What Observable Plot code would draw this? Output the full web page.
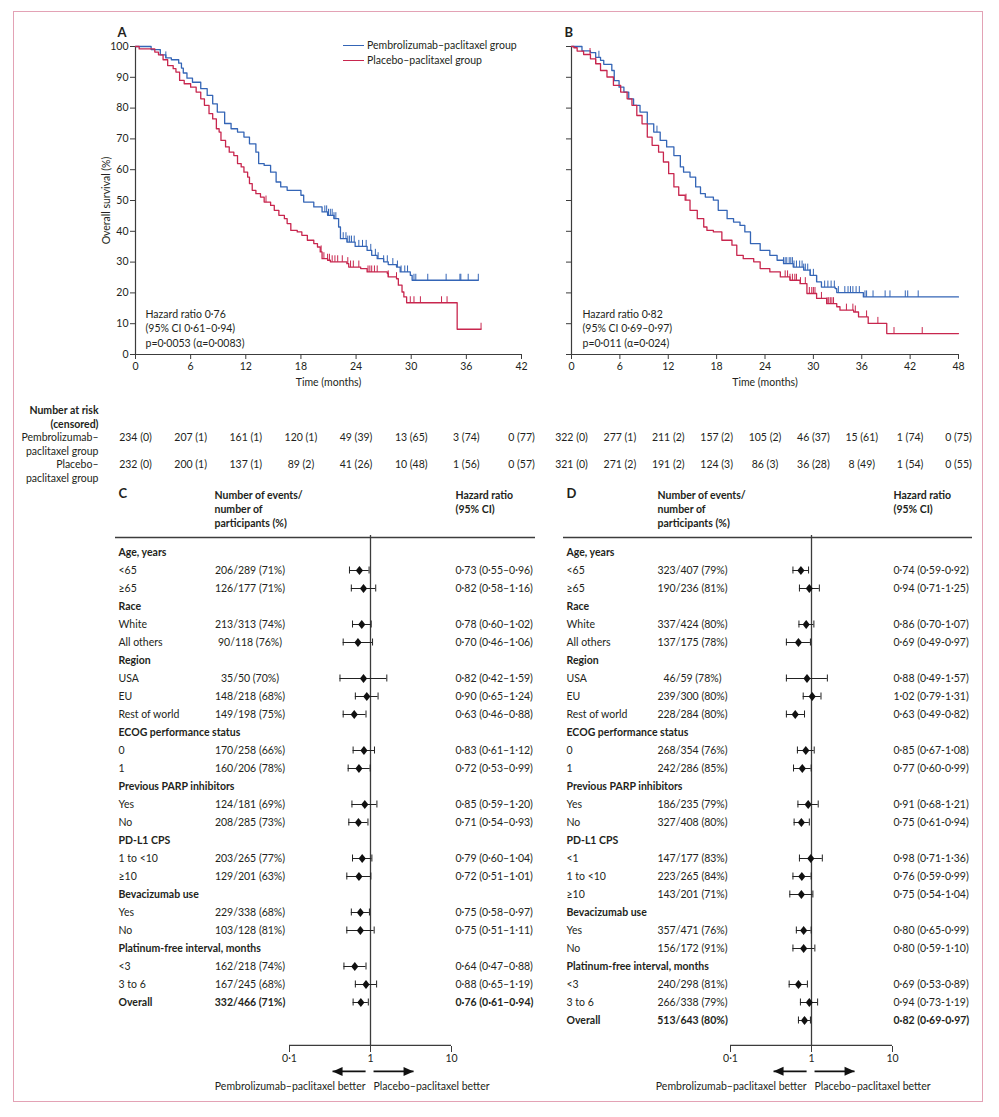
<!DOCTYPE html>
<html><head><meta charset="utf-8">
<script src="https://cdn.jsdelivr.net/npm/d3@7"></script>
<script src="https://cdn.jsdelivr.net/npm/@observablehq/plot@0.6"></script>
<style>
body{margin:0;background:#fff;}
#page{position:relative;width:999px;height:1117px;font-family:Lato,"Open Sans",sans-serif;color:#231f20;overflow:hidden;}
.border{position:absolute;left:13px;top:11px;width:970px;height:1091px;border:1.5px solid #e3a2b5;box-sizing:border-box;}
.legend{position:absolute;font-size:10.5px;line-height:15px;}
.legend .row{display:flex;align-items:center;white-space:nowrap;}
.legend .sw{display:inline-block;width:21px;height:1.5px;margin-right:3px;}
</style></head><body><div id="page"><div class="border"></div></div>
<script>
// ---------------- DATA ----------------
const colPembro = "#3465b6", colPlacebo = "#c8264e";
const groupNames = ["Pembrolizumab–paclitaxel group", "Placebo–paclitaxel group"];
const riskLabels = ["Pembrolizumab–\npaclitaxel group", "Placebo–\npaclitaxel group"];
const survTicks = [0,10,20,30,40,50,60,70,80,90,100];
const timeTicksA = [0,6,12,18,24,30,36,42];
const timeTicksB = [0,6,12,18,24,30,36,42,48];

// Panel A – Kaplan–Meier (months, % surviving)
const kmA_pembro_t = [0,1.7,2.7,3.3,3.9,4.7,5.0,5.2,5.6,6.2,7.1,7.8,8.4,8.9,9.7,10.4,11.1,11.8,12.4,13.1,13.4,14.0,14.7,15.3,15.8,16.5,18.0,18.3,19.4,20.3,20.9,21.6,22.1,22.3,23.0,23.9,25.2,25.7,26.3,27.0,27.5,28.4,28.8,29.9,30.1,37.3];
const kmA_pembro_s = [100,99.0,97.3,96.3,95.7,94.6,93.0,91.4,89.7,88.4,86.3,84.1,81.4,78.7,75.0,73.3,72.2,70.6,68.4,65.7,62.0,61.4,59.2,56.0,54.4,53.3,51.7,49.5,47.9,46.3,45.2,44.1,41.4,37.6,36.5,35.1,33.8,32.2,31.1,30.1,29.2,28.4,26.8,25.7,24.1,24.1];
const kmA_placebo_t = [0,0.4,2.1,2.5,3.0,3.5,4.1,4.4,4.8,5.3,6.0,6.6,7.1,7.5,8.0,8.4,8.8,9.1,9.3,9.8,10.2,10.7,11.1,11.5,11.8,12.2,12.4,12.7,13.1,13.6,14.0,14.7,15.1,15.6,16.2,16.5,16.9,17.6,18.1,18.7,19.4,19.8,20.1,20.3,20.9,21.2,23.0,23.2,24.5,25.2,27.4,27.5,28.4,28.6,29.0,29.2,29.5,35.0,37.6];
const kmA_placebo_s = [100,99.2,98.2,97.3,95.7,93.8,92.8,91.7,89.0,87.9,86.8,85.2,83.0,80.9,78.2,76.5,73.3,72.2,69.5,67.4,65.7,64.6,62.0,60.9,59.2,57.6,55.5,53.3,52.2,51.1,49.5,48.4,46.8,45.2,44.1,42.5,40.3,39.8,38.7,37.1,36.0,34.9,33.3,31.1,30.6,30.1,29.5,28.4,27.9,26.8,26.3,25.2,24.6,22.5,20.3,18.7,16.8,8.2,8.2];
const censA_pembro = [3.3,20.6,20.8,21.0,21.2,21.4,21.6,21.8,22.6,22.9,23.1,23.3,23.5,23.8,24.3,24.7,25.1,25.6,26.1,26.4,27.0,27.4,28.0,28.5,28.9,29.3,29.6,30.3,30.5,31.8,33.8,35.3,35.4,36.2,37.3];
const censA_placebo = [14.2,20.2,20.5,20.9,21.1,21.4,21.7,22.0,22.5,23.1,23.4,23.7,24.3,25.3,25.5,25.7,26.0,26.3,27.5,28.4,29.9,30.3,31.0,33.3,33.9,37.6];

// Panel B
const kmB_pembro_t = [0,1.3,2.35,3.0,3.6,4.0,5.0,5.3,5.9,6.5,7.1,7.7,8.5,9.4,10.2,11.0,11.8,12.7,13.5,13.9,14.7,15.4,16.0,16.6,17.6,18.2,19.3,20.1,20.9,21.5,22.2,23.4,24.6,25.5,26.3,27.5,28.8,29.6,30.4,31.0,32.7,32.9,36.2,48];
const kmB_pembro_s = [100,98.6,98.0,96.5,95.5,94.2,92.2,88.9,86.8,85.2,83.0,80.9,78.7,74.9,72.2,69.5,67.4,64.6,60.9,59.2,57.6,54.4,52.2,51.1,50.1,46.8,44.1,43.0,41.9,39.8,36.0,33.8,32.2,30.6,29.5,28.4,27.4,25.7,23.6,21.9,21.4,20.1,18.7,18.7];
const kmB_placebo_t = [0,0.3,0.7,1.5,2.35,3.0,3.6,4.4,5.2,6.1,6.9,7.5,8.1,8.75,9.4,10.0,10.8,11.4,12.05,12.7,13.3,14.1,14.7,15.6,16.4,16.8,17.6,18.65,19.9,20.5,21.3,22.6,23.4,24.6,25.9,27.1,28.35,29.2,30.4,31.65,32.9,33.3,35.0,35.6,36.8,39.1,48];
const kmB_placebo_s = [100,99.6,98.5,97.4,96.0,94.4,92.2,90.1,87.4,85.2,83.0,80.9,77.6,74.9,70.6,67.9,65.7,62.5,58.7,54.4,51.7,50.1,46.8,44.1,41.4,40.3,39.8,37.1,35.5,32.2,31.1,30.1,27.9,26.8,25.2,24.1,23.0,19.8,18.2,16.5,15.5,14.4,13.8,12.2,10.1,6.8,6.8];
const censB_pembro = [3.4,10.6,26.3,26.5,26.7,27.0,27.2,27.4,27.6,27.9,28.3,28.6,28.8,29.0,29.3,29.6,30.0,30.4,31.4,31.8,32.2,32.6,33.1,33.9,34.3,34.6,34.9,35.3,35.7,36.4,36.6,37.4,38.9,39.5,41.4,41.7,43.0];
const censB_placebo = [2.3,3.0,14.2,26.5,26.8,27.1,27.4,27.7,27.9,28.4,29.0,29.5,29.8,30.0,30.2,31.0,31.7,31.9,32.1,32.3,32.5,34.1,34.9,35.2,36.6,38.0,40.0,43.5];

const hrTextA = "Hazard ratio 0·76\n(95% CI 0·61–0·94)\np=0·0053 (α=0·0083)";
const hrTextB = "Hazard ratio 0·82\n(95% CI 0·69–0·97)\np=0·011 (α=0·024)";

// Number at risk (censored)
const riskA_pembro = [234,207,161,120,49,13,3,0], censA_pembro_n = [0,1,1,1,39,65,74,77];
const riskA_placebo = [232,200,137,89,41,10,1,0], censA_placebo_n = [0,1,1,2,26,48,56,57];
const riskB_pembro = [322,277,211,157,105,46,15,1,0], censB_pembro_n = [0,1,2,2,2,37,61,74,75];
const riskB_placebo = [321,271,191,124,86,36,8,1,0], censB_placebo_n = [0,2,2,3,3,28,49,54,55];

// Forest plot C
const fC_label = ["Age, years","<65","≥65","Race","White","All others","Region","USA","EU","Rest of world","ECOG performance status","0","1","Previous PARP inhibitors","Yes","No","PD-L1 CPS","1 to <10","≥10","Bevacizumab use","Yes","No","Platinum-free interval, months","<3","3 to 6","Overall"];
const fC_events = [null,206,126,null,213,90,null,35,148,149,null,170,160,null,124,208,null,203,129,null,229,103,null,162,167,332];
const fC_n      = [null,289,177,null,313,118,null,50,218,198,null,258,206,null,181,285,null,265,201,null,338,128,null,218,245,466];
const fC_pct    = [null,71,71,null,74,76,null,70,68,75,null,66,78,null,69,73,null,77,63,null,68,81,null,74,68,71];
const fC_hr     = [null,0.73,0.82,null,0.78,0.70,null,0.82,0.90,0.63,null,0.83,0.72,null,0.85,0.71,null,0.79,0.72,null,0.75,0.75,null,0.64,0.88,0.76];
const fC_lo     = [null,0.55,0.58,null,0.60,0.46,null,0.42,0.65,0.46,null,0.61,0.53,null,0.59,0.54,null,0.60,0.51,null,0.58,0.51,null,0.47,0.65,0.61];
const fC_hi     = [null,0.96,1.16,null,1.02,1.06,null,1.59,1.24,0.88,null,1.12,0.99,null,1.20,0.93,null,1.04,1.01,null,0.97,1.11,null,0.88,1.19,0.94];

// Forest plot D
const fD_label = ["Age, years","<65","≥65","Race","White","All others","Region","USA","EU","Rest of world","ECOG performance status","0","1","Previous PARP inhibitors","Yes","No","PD-L1 CPS","<1","1 to <10","≥10","Bevacizumab use","Yes","No","Platinum-free interval, months","<3","3 to 6","Overall"];
const fD_events = [null,323,190,null,337,137,null,46,239,228,null,268,242,null,186,327,null,147,223,143,null,357,156,null,240,266,513];
const fD_n      = [null,407,236,null,424,175,null,59,300,284,null,354,286,null,235,408,null,177,265,201,null,471,172,null,298,338,643];
const fD_pct    = [null,79,81,null,80,78,null,78,80,80,null,76,85,null,79,80,null,83,84,71,null,76,91,null,81,79,80];
const fD_hr     = [null,0.74,0.94,null,0.86,0.69,null,0.88,1.02,0.63,null,0.85,0.77,null,0.91,0.75,null,0.98,0.76,0.75,null,0.80,0.80,null,0.69,0.94,0.82];
const fD_lo     = [null,0.59,0.71,null,0.70,0.49,null,0.49,0.79,0.49,null,0.67,0.60,null,0.68,0.61,null,0.71,0.59,0.54,null,0.65,0.59,null,0.53,0.73,0.69];
const fD_hi     = [null,0.92,1.25,null,1.07,0.97,null,1.57,1.31,0.82,null,1.08,0.99,null,1.21,0.94,null,1.36,0.99,1.04,null,0.99,1.10,null,0.89,1.19,0.97];

const forestTicks = [0.1, 1, 10];
const betterLabels = ["Pembrolizumab–paclitaxel better", "Placebo–paclitaxel better"];
const arrowLeft = {from: 0.87, to: 0.34}, arrowRight = {from: 1.09, to: 3.4};

// ---------------- HELPERS ----------------
const page = document.getElementById("page");
const ink = "#231f20", axisInk = "#3c3c3c";
const baseStyle = {fontFamily: "Lato, 'Open Sans', sans-serif", fontSize: "10.5px", color: ink, background: "transparent", overflow: "visible"};
function place(el, left, top) { el.style.position = "absolute"; el.style.left = left + "px"; el.style.top = top + "px"; el.style.maxWidth = "none"; page.appendChild(el); }
const dec = (v) => String(v).replace(".", "·");
const f2 = (v) => v.toFixed(2).replace(".", "·");
function stepAt(ts, ss, t) { let v = ss[0]; for (let i = 0; i < ts.length; i++) { if (ts[i] <= t) v = ss[i]; else break; } return v; }
const tickUp = {draw(ctx) { ctx.moveTo(0, 0); ctx.lineTo(0, -6.5); }};
const diamondSym = {draw(ctx) { ctx.moveTo(0, -4.6); ctx.lineTo(3.6, 0); ctx.lineTo(0, 4.6); ctx.lineTo(-3.6, 0); ctx.closePath(); }};
const triLeft = {draw(ctx) { ctx.moveTo(0, 0); ctx.lineTo(10, -4.5); ctx.lineTo(10, 4.5); ctx.closePath(); }};
const triRight = {draw(ctx) { ctx.moveTo(0, 0); ctx.lineTo(-10, -4.5); ctx.lineTo(-10, 4.5); ctx.closePath(); }};

// ---------------- KM PANELS ----------------
function kmPanel(o) {
  const curves = [
    ...o.pt.map((t, i) => ({t, s: o.ps[i], g: "p"})),
    ...o.qt.map((t, i) => ({t, s: o.qs[i], g: "q"}))
  ];
  const cens = [
    ...o.pc.map(t => ({t, s: stepAt(o.pt, o.ps, t), g: "p"})),
    ...o.qc.map(t => ({t, s: stepAt(o.qt, o.qs, t), g: "q"}))
  ];
  const marks = [
    Plot.ruleX([0], {stroke: axisInk, strokeWidth: 1.2}),
    Plot.ruleY([0], {stroke: axisInk, strokeWidth: 1.2}),
    Plot.axisX({ticks: o.xTicks, tickSize: 5, tickPadding: 3, tickFormat: d => String(d), label: null, stroke: axisInk}),
    Plot.axisY({ticks: survTicks, tickSize: 5, tickPadding: 2, tickFormat: o.yLabels ? (d => String(d)) : (() => ""), label: null, stroke: axisInk}),
    Plot.line(curves.filter(d => d.g === "p"), {x: "t", y: "s", curve: "step-after", stroke: colPembro, strokeWidth: 1.3}),
    Plot.line(curves.filter(d => d.g === "q"), {x: "t", y: "s", curve: "step-after", stroke: colPlacebo, strokeWidth: 1.3}),
    Plot.dot(cens.filter(d => d.g === "p"), {x: "t", y: "s", symbol: tickUp, stroke: colPembro, fill: "none", strokeWidth: 1}),
    Plot.dot(cens.filter(d => d.g === "q"), {x: "t", y: "s", symbol: tickUp, stroke: colPlacebo, fill: "none", strokeWidth: 1}),
    Plot.text([o.letter], {frameAnchor: "top-left", dx: o.letterDx, dy: -19, fontWeight: "bold", fontSize: 13, textAnchor: "start"}),
    Plot.text([o.hrText], {frameAnchor: "bottom-left", dx: o.hrDx, dy: -8, lineAnchor: "bottom", lineHeight: 1.38, textAnchor: "start"}),
    Plot.text(["Time (months)"], {frameAnchor: "bottom", dy: 31, textAnchor: "middle"})
  ];
  if (o.yLabels) marks.push(Plot.text(["Overall survival (%)"], {frameAnchor: "left", rotate: -90, dx: -29, textAnchor: "middle"}));
  const svg = Plot.plot({
    width: o.width, height: 395, marginLeft: o.ml, marginRight: o.mr, marginTop: 46, marginBottom: 41,
    x: {domain: [0, o.xMax]}, y: {domain: [0, 100]},
    style: baseStyle, marks
  });
  place(svg, o.left, 0);

  // number at risk table
  const rows = [
    ...o.xTicks.map((t, i) => ({t, g: "p", text: `${o.riskP[i]} (${o.censP[i]})`})),
    ...o.xTicks.map((t, i) => ({t, g: "q", text: `${o.riskQ[i]} (${o.censQ[i]})`}))
  ];
  const rmarks = [Plot.text(rows, {x: "t", y: "g", text: "text"})];
  if (o.yLabels) {
    rmarks.push(Plot.text([{g: "p", l: riskLabels[0]}, {g: "q", l: riskLabels[1]}], {y: "g", text: "l", frameAnchor: "left", dx: -37, dy: -6.5, textAnchor: "end", lineAnchor: "top", lineHeight: 1.33}));
    rmarks.push(Plot.text(["Number at risk\n(censored)"], {frameAnchor: "top-left", dx: -37, dy: 9, textAnchor: "end", lineAnchor: "top", lineHeight: 1.29, fontWeight: "bold"}));
  }
  const rsvg = Plot.plot({
    width: o.width, height: 95, marginLeft: o.ml, marginRight: o.mr, marginTop: 0, marginBottom: 0,
    x: {domain: [0, o.xMax], axis: null},
    y: {type: "band", domain: ["p", "q"], range: [28.5, 82.5], padding: 0, axis: null},
    style: baseStyle, marks: rmarks
  });
  place(rsvg, o.left, 395);
}

kmPanel({left: 0, width: 540, ml: 135, mr: 19, xMax: 42, xTicks: timeTicksA, letter: "A", letterDx: -18, hrDx: 10, hrText: hrTextA, yLabels: true,
  pt: kmA_pembro_t, ps: kmA_pembro_s, qt: kmA_placebo_t, qs: kmA_placebo_s, pc: censA_pembro, qc: censA_placebo,
  riskP: riskA_pembro, censP: censA_pembro_n, riskQ: riskA_placebo, censQ: censA_placebo_n});
kmPanel({left: 540, width: 459, ml: 31, mr: 41, xMax: 48, xTicks: timeTicksB, letter: "B", letterDx: -7, hrDx: 11, hrText: hrTextB, yLabels: false,
  pt: kmB_pembro_t, ps: kmB_pembro_s, qt: kmB_placebo_t, qs: kmB_placebo_s, pc: censB_pembro, qc: censB_placebo,
  riskP: riskB_pembro, censP: censB_pembro_n, riskQ: riskB_placebo, censQ: censB_placebo_n});

// legend (panel A)
const leg = document.createElement("div");
leg.className = "legend"; leg.style.left = "343px"; leg.style.top = "38px";
[[colPembro, groupNames[0]], [colPlacebo, groupNames[1]]].forEach(([c, t]) => {
  const r = document.createElement("div"); r.className = "row";
  const sw = document.createElement("span"); sw.className = "sw"; sw.style.background = c;
  const tx = document.createElement("span"); tx.textContent = t;
  r.appendChild(sw); r.appendChild(tx); leg.appendChild(r);
});
page.appendChild(leg);

// ---------------- FOREST PANELS ----------------
function forestPanel(o) {
  const rows = o.label.map((label, i) => ({id: "r" + i, label, header: o.hr[i] == null, overall: label === "Overall",
    events: o.events[i], n: o.n[i], pct: o.pct[i], hr: o.hr[i], lo: o.lo[i], hi: o.hi[i]}));
  const data = rows.filter(r => !r.header);
  const nr = rows.length, step = 18.12, y0 = 61;
  const last = rows[nr - 1].id, lastC = y0 + (nr - 0.5) * step;
  const axisDy = 566 - lastC;
  const bold = rows.filter(r => r.header || r.overall), normal = rows.filter(r => !r.header && !r.overall);
  const dNorm = data.filter(r => !r.overall), dBold = data.filter(r => r.overall);
  const numText = d => `${d.events}/${d.n} (${d.pct}%)`;
  const hrText = d => `${f2(d.hr)} (${f2(d.lo)}${o.dash}${f2(d.hi)})`;
  const svg = Plot.plot({
    width: o.width, height: 620, marginLeft: o.ml, marginRight: o.mr, marginTop: 55, marginBottom: 54,
    x: {type: "log", domain: [0.1, 10], range: o.xRange},
    y: {type: "band", domain: rows.map(r => r.id), range: [y0, y0 + nr * step], padding: 0, axis: null},
    style: baseStyle,
    marks: [
      Plot.ruleY([rows[0].id], {dy: -15, stroke: axisInk, strokeWidth: 1.3}),
      Plot.ruleX([1], {stroke: axisInk, strokeWidth: 1.3}),
      Plot.ruleY([last], {x1: 0.1, x2: 10, dy: axisDy, stroke: axisInk, strokeWidth: 1.2}),
      Plot.axisX({ticks: forestTicks, tickFormat: dec, tickSize: 6, tickPadding: 2, label: null, stroke: axisInk}),
      Plot.ruleY(data, {y: "id", x1: "lo", x2: "hi", stroke: "#222", strokeWidth: 1}),
      Plot.tickX(data, {x: "lo", y: "id", insetTop: 5.5, insetBottom: 5.5, stroke: "#222"}),
      Plot.tickX(data, {x: "hi", y: "id", insetTop: 5.5, insetBottom: 5.5, stroke: "#222"}),
      Plot.dot(data, {x: "hr", y: "id", symbol: diamondSym, fill: "#111", stroke: "none"}),
      // text columns
      Plot.text(normal, {y: "id", text: "label", frameAnchor: "left", dx: 3}),
      Plot.text(bold, {y: "id", text: "label", frameAnchor: "left", dx: 3, fontWeight: "bold"}),
      Plot.text(dNorm, {y: "id", text: numText, frameAnchor: "left", dx: o.numDx, textAnchor: "middle"}),
      Plot.text(dBold, {y: "id", text: numText, frameAnchor: "left", dx: o.numDx, textAnchor: "middle", fontWeight: "bold"}),
      Plot.text(dNorm, {y: "id", text: hrText, frameAnchor: "left", dx: o.hrDx, textAnchor: "start"}),
      Plot.text(dBold, {y: "id", text: hrText, frameAnchor: "left", dx: o.hrDx, textAnchor: "start", fontWeight: "bold"}),
      // headers
      Plot.text([o.letter], {frameAnchor: "top-left", dx: 3, dy: -47, lineAnchor: "top", fontWeight: "bold", fontSize: 13}),
      Plot.text(["Number of events/\nnumber of\nparticipants (%)"], {frameAnchor: "top-left", dx: o.headNumDx, dy: -46, lineAnchor: "top", lineHeight: 1.31, fontWeight: "bold"}),
      Plot.text(["Hazard ratio\n(95% CI)"], {frameAnchor: "top-left", dx: o.hrDx, dy: -46, lineAnchor: "top", lineHeight: 1.31, fontWeight: "bold"}),
      // direction arrows
      Plot.link([arrowLeft, arrowRight], {x1: "from", x2: "to", y1: () => last, y2: () => last, dy: axisDy + 26, stroke: "#111", strokeWidth: 1.8}),
      Plot.dot([arrowLeft], {x: "to", y: () => last, dy: axisDy + 26, symbol: triLeft, fill: "#111", stroke: "none"}),
      Plot.dot([arrowRight], {x: "to", y: () => last, dy: axisDy + 26, symbol: triRight, fill: "#111", stroke: "none"}),
      Plot.text([betterLabels[0]], {x: arrowLeft.from, y: () => last, dy: axisDy + 41, textAnchor: "end"}),
      Plot.text([betterLabels[1]], {x: arrowRight.from, y: () => last, dy: axisDy + 41, textAnchor: "start"})
    ]
  });
  place(svg, o.left, 480);
}

forestPanel({left: 100, width: 440, ml: 15, mr: 5, xRange: [189, 351], numDx: 134.5, hrDx: 340, headNumDx: 99, letter: "C", dash: "–",
  label: fC_label, events: fC_events, n: fC_n, pct: fC_pct, hr: fC_hr, lo: fC_lo, hi: fC_hi});
forestPanel({left: 540, width: 442, ml: 23, mr: 10, xRange: [190, 352], numDx: 129, hrDx: 330, headNumDx: 94, letter: "D", dash: "-",
  label: fD_label, events: fD_events, n: fD_n, pct: fD_pct, hr: fD_hr, lo: fD_lo, hi: fD_hi});
</script></body></html>
